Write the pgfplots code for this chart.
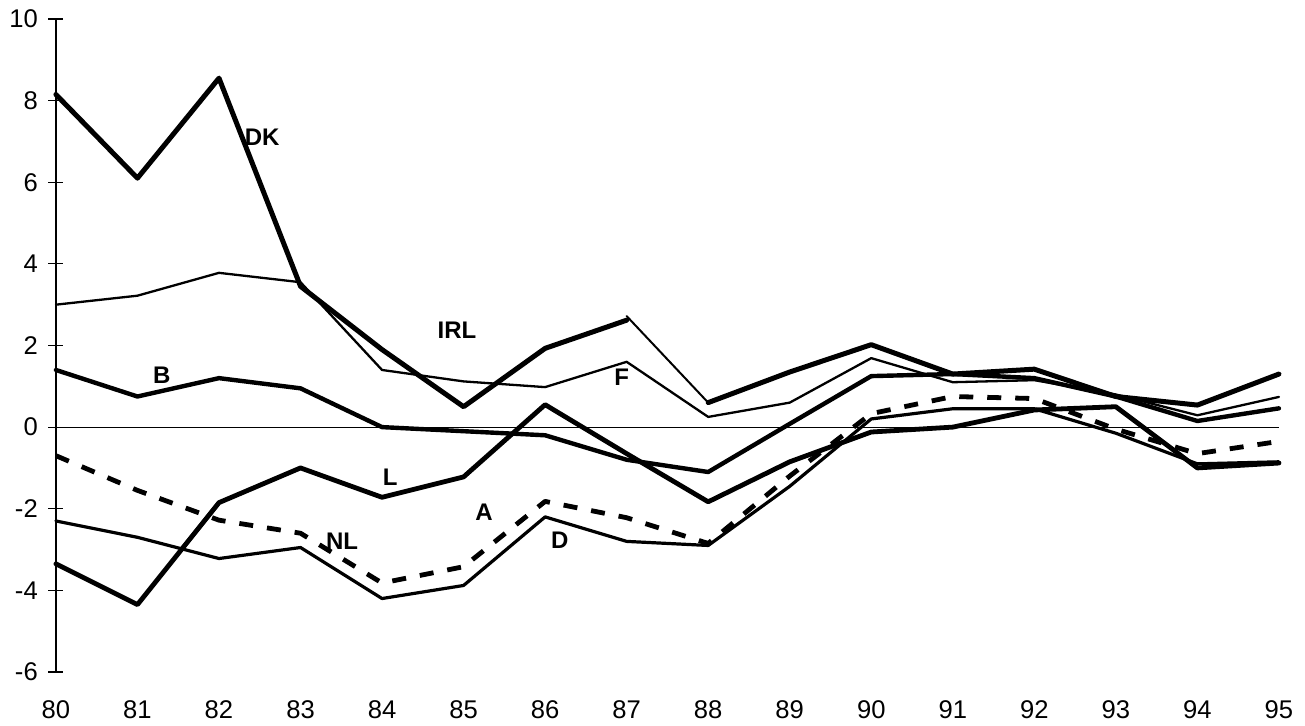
\documentclass[border=0pt]{standalone}
\usepackage{fontspec}
\setmainfont{Liberation Sans}
\usepackage{pgfplots}
\pgfplotsset{compat=1.18}
\usetikzlibrary{calc}

\begin{document}
\begin{tikzpicture}
\begin{axis}[name=ax, scale only axis, width=611.5pt, height=326.5pt,
  xmin=80, xmax=95, ymin=-6, ymax=10,
  axis x line*=bottom, axis y line*=left,
  x axis line style={draw=none},
  xtick={80,81,...,95}, ytick={-6,-4,...,10},
  major x tick style={draw=none},
  tick align=center, major tick length=7.5pt,
  y axis line style={line width=0.6pt},
  ytick style={line width=0.6pt, black},
  tick label style={font=\fontsize{12.8}{15}\selectfont},
  /pgf/number format/assume math mode=true,
  yticklabel style={xshift=-1.8pt},
  xticklabel style={yshift=-7.2pt},
  clip=false,
  every axis plot/.append style={black, line join=round, line cap=round},
]
% zero line with ticks
\draw[line width=0.6pt] (axis cs:80,0) -- (axis cs:95,0);
\pgfplotsinvokeforeach{80,81,82,83,84,85,86,87,88,89,90,91,92,93,94,95}{
  \draw[line width=0.6pt] ($(axis cs:#1,0)+(0,-4pt)$) -- ($(axis cs:#1,0)+(0,4.5pt)$);
}

% DK (thick, thin segment 87-88)
\addplot[line width=2.5pt] coordinates {(80,8.15) (81,6.1) (82,8.55) (83,3.45) (84,1.9) (85,0.5) (86,1.93) (87,2.62)};
\addplot[line width=1pt] coordinates {(87,2.72) (88,0.6)};
\addplot[line width=2.5pt] coordinates {(88,0.6) (89,1.35) (90,2.02) (91,1.3) (92,1.42) (93,0.75) (94,0.54) (95,1.3)};
% thin line
\addplot[line width=1.15pt] coordinates {(80,3.0) (81,3.22) (82,3.78) (83,3.55) (84,1.4) (85,1.12) (86,0.98) (87,1.6) (88,0.25) (89,0.6) (90,1.69) (91,1.1) (92,1.15) (93,0.8) (94,0.29) (95,0.74)};
% B
\addplot[line width=2.2pt] coordinates {(80,1.4) (81,0.75) (82,1.2) (83,0.95) (84,0.0) (85,-0.1) (86,-0.2) (87,-0.8) (88,-1.1) (89,0.08) (90,1.25) (91,1.3) (92,1.2) (93,0.75) (94,0.15) (95,0.46)};
% L
\addplot[line width=2.4pt] coordinates {(80,-3.35) (81,-4.35) (82,-1.85) (83,-1.0) (84,-1.72) (85,-1.22) (86,0.55) (87,-0.65) (88,-1.83) (89,-0.85) (90,-0.12) (91,0.0) (92,0.42) (93,0.5) (94,-1.0) (95,-0.88)};
% D
\addplot[line width=1.6pt] coordinates {(80,-2.3) (81,-2.7) (82,-3.22) (83,-2.95) (84,-4.2) (85,-3.88) (86,-2.2) (87,-2.8) (88,-2.9) (89,-1.45) (90,0.2) (91,0.45) (92,0.45) (93,-0.15) (94,-0.9) (95,-0.85)};
% NL (dashed)
\addplot[line width=2.4pt, line cap=butt, dash pattern=on 7pt off 7pt] coordinates {(80,-0.7) (81,-1.55) (82,-2.28) (83,-2.6) (84,-3.82) (85,-3.42) (86,-1.82) (87,-2.22) (88,-2.85) (89,-1.2) (90,0.33) (91,0.75) (92,0.7) (93,-0.05) (94,-0.65) (95,-0.35)};

% series labels
\begin{scope}[every node/.style={font=\bfseries\fontsize{12}{14}\selectfont, inner sep=0pt}]
\node at (axis cs:82.53,7.1) {DK};
\node at (axis cs:84.92,2.38) {IRL};
\node at (axis cs:81.3,1.27) {B};
\node at (axis cs:86.94,1.22) {F};
\node at (axis cs:84.1,-1.22) {L};
\node at (axis cs:83.51,-2.79) {NL};
\node at (axis cs:85.25,-2.08) {A};
\node at (axis cs:86.18,-2.77) {D};
\end{scope}
\end{axis}
\pgfresetboundingbox
\path[use as bounding box] ($(ax.south west)+(-28pt,-27pt)$) rectangle ($(ax.north east)+(13pt,9.5pt)$);
\end{tikzpicture}
\end{document}
